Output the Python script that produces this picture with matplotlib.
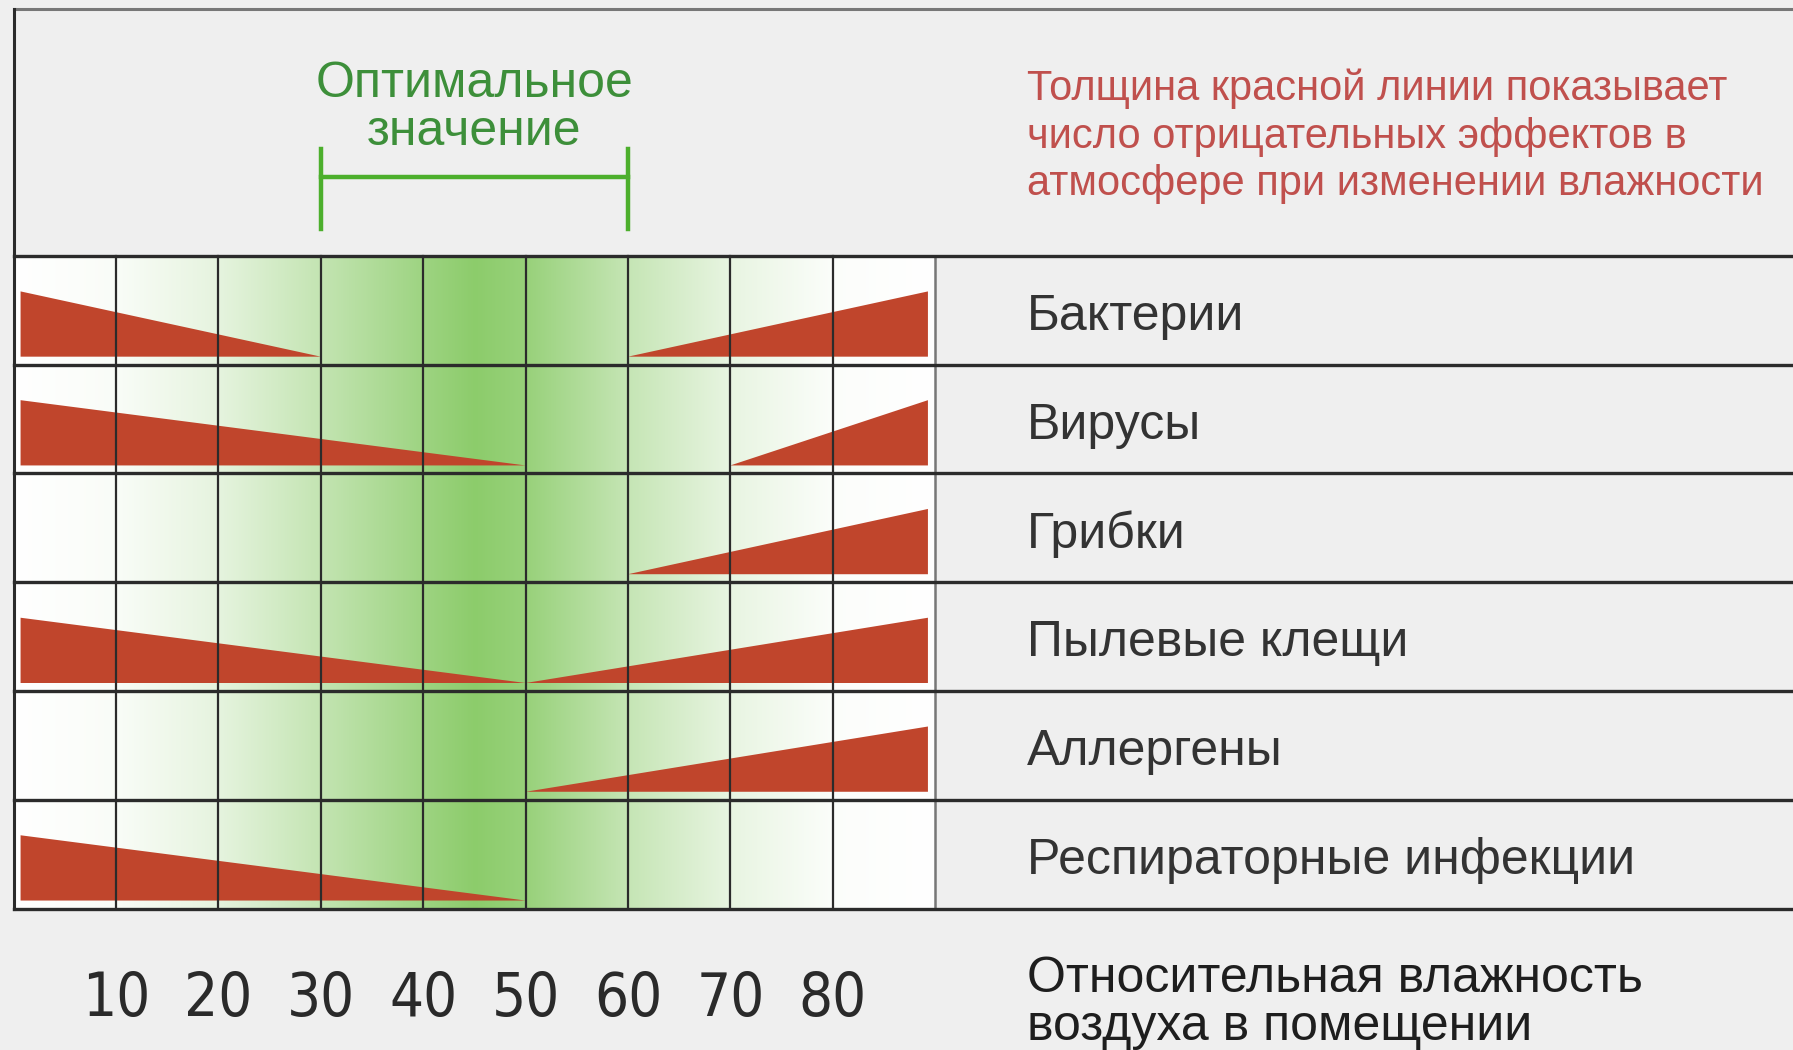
import numpy as np
import matplotlib
matplotlib.use('Agg')
import matplotlib.pyplot as plt
from matplotlib import font_manager
from matplotlib.font_manager import FontProperties

effects = ['Бактерии', 'Вирусы', 'Грибки', 'Пылевые клещи', 'Аллергены',
           'Респираторные инфекции']
# humidity (%) where the harm on the dry side ends / on the damp side starts
dry_end = [30, 50, None, 50, None, 50]
damp_start = [60, 70, 60, 50, 50, None]
humidity_ticks = [10, 20, 30, 40, 50, 60, 70, 80]
optimal = (30, 60)
# green shading of the scale (0 = white, 1 = full green)
shade_x = [0, 10, 20, 30, 40, 45, 50, 60, 70, 80, 90]
shade_v = [0, 0.05, 0.22, 0.52, 0.85, 1.0, 0.9, 0.5, 0.2, 0.03, 0]

note = 'Толщина красной линии показывает\nчисло отрицательных эффектов в\nатмосфере при изменении влажности'
axis_title = 'Относительная влажность\nвоздуха в помещении'


def narrow_font():
    # look for a condensed face for the big tick numbers
    for fam, st in [('Liberation Sans Narrow', 'normal'),
                    ('DejaVu Sans Condensed', 'normal'),
                    ('DejaVu Sans', 'condensed'),
                    ('Roboto Condensed', 'normal')]:
        try:
            path = font_manager.findfont(FontProperties(family=fam, stretch=st),
                                         fallback_to_default=False)
        except ValueError:
            continue
        if 'arrow' in path or 'ondensed' in path:
            return FontProperties(fname=path)
    return None


plt.rcParams['font.family'] = ['Liberation Sans', 'DejaVu Sans']
tick_fp = narrow_font()
if tick_fp is None:
    tick_fp = FontProperties(family=['Liberation Sans', 'DejaVu Sans'])
    tick_fp.set_size(40)
else:
    tick_fp.set_size(43)

bg = '#efefef'
red = '#c0452c'
line_c = '#2b2b2b'

fig = plt.figure(figsize=(17.93, 10.5), dpi=100, facecolor=bg)
ax = fig.add_axes([0, 0, 1, 1])
ax.set_facecolor(bg)
ax.set_xlim(-1.34, 173.8)
ax.set_ylim(7.30, -2.353)
ax.axis('off')

n = len(effects)
x0, x1 = 0, 90

# green gradient behind the grid
xs = np.linspace(x0, x1, 900)
t = np.interp(xs, shade_x, shade_v)
top = np.array([0.55, 0.80, 0.42])
rgb = 1 - t[:, None] * (1 - top[None, :])
ax.imshow(rgb[None, :, :], extent=[x0, x1, n, 0], aspect='auto',
          interpolation='bilinear', zorder=1)

# red wedges
for i in range(n):
    yb, yt = i + 0.926, i + 0.326
    if dry_end[i] is not None:
        ax.fill([0.67, 0.67, dry_end[i]], [yb, yt, yb], color=red, lw=0, zorder=2)
    if damp_start[i] is not None:
        ax.fill([damp_start[i], 89.3, 89.3], [yb, yt, yb], color=red, lw=0, zorder=2)

# grid lines
for v in humidity_ticks:
    ax.plot([v, v], [0, n], color=line_c, lw=1.6, zorder=3)
ax.plot([x1, x1], [0, n], color='#777777', lw=1.8, zorder=3)
for r in range(n + 1):
    ax.plot([x0, 173.8], [r, r], color=line_c, lw=2.4, zorder=4)
ax.plot([x0, 173.8], [-2.27, -2.27], color='#777777', lw=2.2, zorder=4)
ax.plot([x0, x0], [-2.27, n], color=line_c, lw=2.2, zorder=4)

# optimal range bracket
g = '#4caf2c'
ax.plot(optimal, [-0.725, -0.725], color=g, lw=3.2, zorder=3)
for v in optimal:
    ax.plot([v, v], [-0.985, -0.251], color=g, lw=3.2, zorder=3)
ax.text(sum(optimal) / 2, -1.36, 'Оптимальное\nзначение', ha='center', va='center',
        fontsize=36, color='#3d8f3a', linespacing=1.08)

# texts
ax.text(99, -1.10, note, ha='left', va='center', fontsize=30, color='#c0504d',
        linespacing=1.25)
for i, name in enumerate(effects):
    ax.text(99, i + 0.56, name, ha='left', va='center', fontsize=36, color='#333333')
for v in humidity_ticks:
    ax.text(v, 6.84, str(v), ha='center', va='center', fontproperties=tick_fp,
            color='#2a2a2a')
ax.text(99, 6.87, axis_title, ha='left', va='center', fontsize=36, color='#1e1e1e',
        linespacing=1.05)

fig.savefig('out.png', dpi=100, facecolor=bg)
